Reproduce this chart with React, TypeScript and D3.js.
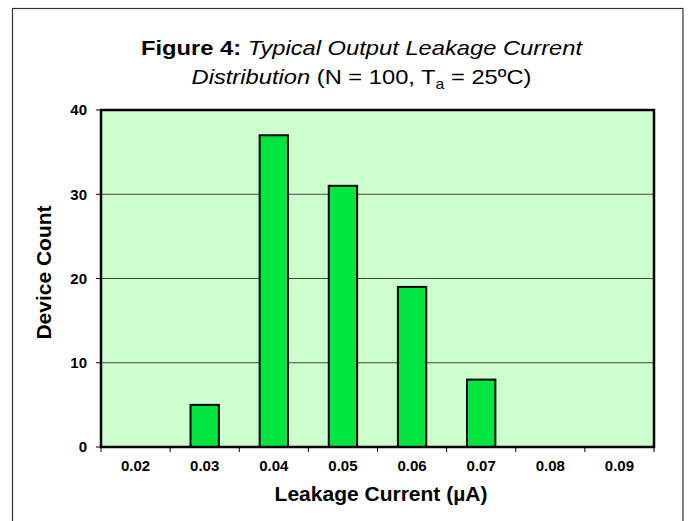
import React from 'react';
import * as d3 from 'd3';

const categories = ['0.02', '0.03', '0.04', '0.05', '0.06', '0.07', '0.08', '0.09'];
const counts = [0, 5, 37, 31, 19, 8, 0, 0];
const yTicks = [0, 10, 20, 30, 40];
const gridValues = [10, 20, 30];

const W = 688;
const H = 521;
const plot = { left: 101, right: 654, top: 110, bottom: 447 };
const font = 'Arial, "Liberation Sans", Helvetica, sans-serif';

const App: React.FC = () => {
    const x = d3.scaleBand<string>()
        .domain(categories)
        .range([plot.left, plot.right])
        .paddingInner(0.59)
        .paddingOuter(0.295);

    const band = d3.scaleBand<string>()
        .domain(categories)
        .range([plot.left, plot.right])
        .padding(0);

    const y = d3.scaleLinear().domain([0, 40]).range([plot.bottom, plot.top]);

    const boundaries = categories.map(c => band(c) as number).concat([plot.right]);

    return (
        <svg width={W} height={H} style={{ position: 'absolute', left: 0, top: 0, background: '#fff' }}>
            {/* outer frame */}
            <rect x={12.5} y={8.5} width={670.5} height={H + 10} fill="none" stroke="#333" strokeWidth={1.2} />

            {/* title */}
            <g transform="translate(361.5,55) scale(1.13,1)">
                <text textAnchor="middle" fontFamily={font} fontSize={21} fill="#000">
                    <tspan fontWeight="bold">Figure 4:</tspan>
                    <tspan fontStyle="italic"> Typical Output Leakage Current</tspan>
                </text>
            </g>
            <g transform="translate(361.5,84) scale(1.13,1)">
                <text textAnchor="middle" fontFamily={font} fontSize={21} fill="#000">
                    <tspan fontStyle="italic">Distribution</tspan>
                    <tspan> (N = 100, T</tspan>
                    <tspan fontSize={14} dy={5}>a</tspan>
                    <tspan dy={-5}> = 25ºC)</tspan>
                </text>
            </g>

            {/* plot background */}
            <rect x={plot.left} y={plot.top} width={plot.right - plot.left} height={plot.bottom - plot.top} fill="#CCFFCC" />

            {/* gridlines */}
            {gridValues.map(v => (
                <line key={v} x1={plot.left} x2={plot.right} y1={y(v)} y2={y(v)} stroke="#444" strokeWidth={1} />
            ))}

            {/* bars */}
            {categories.map((c, i) => counts[i] > 0 ? (
                <rect key={c}
                    x={x(c)}
                    y={y(counts[i])}
                    width={x.bandwidth()}
                    height={y(0) - y(counts[i])}
                    fill="#00E640"
                    stroke="#000"
                    strokeWidth={2} />
            ) : null)}

            {/* plot border */}
            <rect x={plot.left} y={plot.top} width={plot.right - plot.left} height={plot.bottom - plot.top} fill="none" stroke="#000" strokeWidth={2.5} />

            {/* y axis ticks & labels */}
            {yTicks.map(v => (
                <g key={v}>
                    <line x1={plot.left - 5} x2={plot.left} y1={y(v)} y2={y(v)} stroke="#000" strokeWidth={1} />
                    <text x={87} y={y(v)} dy="0.36em" textAnchor="end" fontFamily={font} fontWeight="bold" fontSize={15}>{v}</text>
                </g>
            ))}

            {/* x axis ticks & labels */}
            {boundaries.map((b, i) => (
                <line key={i} x1={b} x2={b} y1={plot.bottom} y2={plot.bottom + 5} stroke="#000" strokeWidth={1} />
            ))}
            {categories.map(c => (
                <text key={c} x={(band(c) as number) + band.bandwidth() / 2} y={471} textAnchor="middle" fontFamily={font} fontWeight="bold" fontSize={15}>{c}</text>
            ))}

            {/* axis titles */}
            <text x={381} y={501} textAnchor="middle" fontFamily={font} fontWeight="bold" fontSize={21}>Leakage Current (µA)</text>
            <text transform={`translate(51,${(plot.top + plot.bottom) / 2 - 6}) rotate(-90)`} textAnchor="middle" fontFamily={font} fontWeight="bold" fontSize={21}>Device Count</text>
        </svg>
    );
};

export default App;
